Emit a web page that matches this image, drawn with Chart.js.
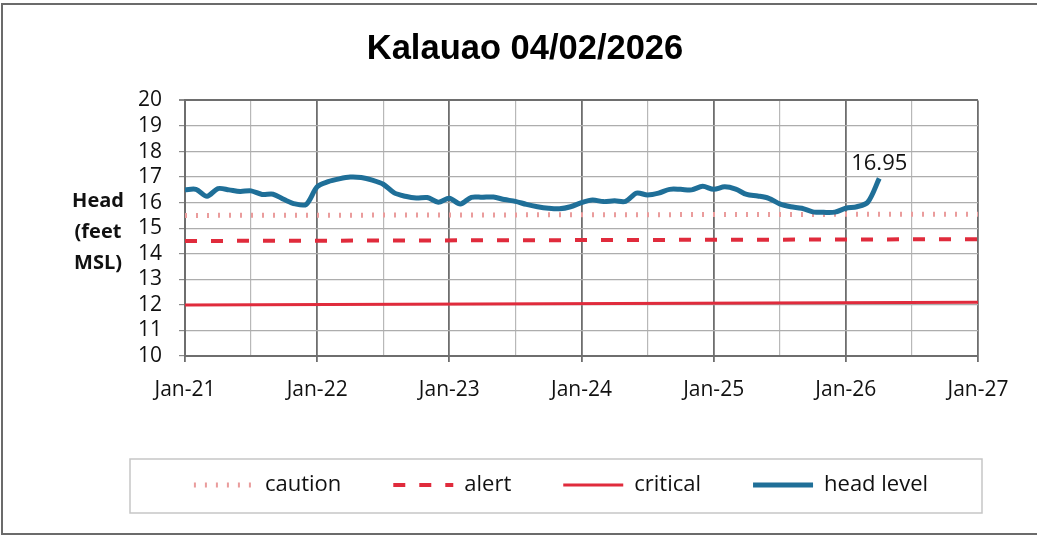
<!DOCTYPE html>
<html>
<head>
<meta charset="utf-8">
<title>Kalauao 04/02/2026</title>
<script src="https://cdn.jsdelivr.net/npm/chart.js@4.4.1/dist/chart.umd.min.js"></script>
<style>
  html, body { margin: 0; padding: 0; background: #fff; }
  #wrap { position: relative; width: 1037px; height: 539px; }
</style>
</head>
<body>
<div id="wrap"><canvas id="headChart"></canvas></div>
<script>
// chart title
const chartTitle = 'Kalauao 04/02/2026';
const yTitleLines = ['Head', '(feet', 'MSL)'];

// x axis labels, one per January
const yearLabels = ['Jan-21', 'Jan-22', 'Jan-23', 'Jan-24', 'Jan-25', 'Jan-26', 'Jan-27'];

// monthly head readings, feet MSL
const headDates = [
  '2021-01-01', '2021-02-01', '2021-03-01', '2021-04-01', '2021-05-01', '2021-06-01',
  '2021-07-01', '2021-08-01', '2021-09-01', '2021-10-01', '2021-11-01', '2021-12-01',
  '2022-01-01', '2022-02-01', '2022-03-01', '2022-04-01', '2022-05-01', '2022-06-01',
  '2022-07-01', '2022-08-01', '2022-09-01', '2022-10-01', '2022-11-01', '2022-12-01',
  '2023-01-01', '2023-02-01', '2023-03-01', '2023-04-01', '2023-05-01', '2023-06-01',
  '2023-07-01', '2023-08-01', '2023-09-01', '2023-10-01', '2023-11-01', '2023-12-01',
  '2024-01-01', '2024-02-01', '2024-03-01', '2024-04-01', '2024-05-01', '2024-06-01',
  '2024-07-01', '2024-08-01', '2024-09-01', '2024-10-01', '2024-11-01', '2024-12-01',
  '2025-01-01', '2025-02-01', '2025-03-01', '2025-04-01', '2025-05-01', '2025-06-01',
  '2025-07-01', '2025-08-01', '2025-09-01', '2025-10-01', '2025-11-01', '2025-12-01',
  '2026-01-01', '2026-02-01', '2026-03-01', '2026-04-02'
];
const headValues = [
  16.50, 16.52, 16.25, 16.55, 16.50, 16.44, 16.46, 16.32, 16.33, 16.12, 15.95, 15.93,
  16.62, 16.82, 16.93, 17.00, 16.98, 16.88, 16.72, 16.38, 16.25, 16.18, 16.20, 16.02,
  16.17, 15.95, 16.21, 16.21, 16.22, 16.12, 16.05, 15.93, 15.84, 15.78, 15.76, 15.84,
  16.00, 16.10, 16.04, 16.07, 16.05, 16.37, 16.30, 16.37, 16.52, 16.52, 16.50, 16.64,
  16.52, 16.62, 16.53, 16.32, 16.26, 16.17, 15.95, 15.84, 15.78, 15.64, 15.62, 15.63,
  15.78, 15.84, 16.02, 16.95
];

// threshold lines, start and end of the axis
const thresholdYears = [2021, 2027];
const cautionLevel = [15.50, 15.55];
const alertLevel = [14.50, 14.57];
const criticalLevel = [12.00, 12.10];

function toYear(s) {
  const p = s.split('-').map(Number);
  return p[0] + (p[1] - 1) / 12 + (p[2] - 1) / 365;
}

function pairs(xs, ys) {
  return xs.map((x, i) => ({ x: x, y: ys[i] }));
}

const tickFont = { family: 'Open Sans', size: 21 };

// frame round the whole picture and the box round the legend
const framePlugin = {
  id: 'frames',
  afterLayout(chart) {
    // the title sits a bit left of the legend's centre
    chart.titleBlock.left -= 36;
    chart.titleBlock.right -= 36;
  },
  afterDraw(chart) {
    const ctx = chart.ctx;
    const lg = chart.legend;
    ctx.save();
    ctx.strokeStyle = '#6b6b6b';
    ctx.lineWidth = 2;
    ctx.strokeRect(2, 4, 1100, 530);
    const cx = (lg.left + lg.right) / 2;
    ctx.strokeStyle = '#c6c6c6';
    ctx.lineWidth = 1.5;
    ctx.strokeRect(cx - 431, lg.top + 37, 852, 54);
    ctx.restore();
  }
};

// horizontal y axis title
const yTitlePlugin = {
  id: 'yTitle',
  afterDraw(chart) {
    const ctx = chart.ctx;
    ctx.save();
    ctx.font = 'bold 20px "Open Sans"';
    ctx.fillStyle = '#111';
    ctx.textAlign = 'center';
    ctx.textBaseline = 'middle';
    yTitleLines.forEach((t, i) => ctx.fillText(t, 98, 201 + i * 31));
    ctx.restore();
  }
};

// value label on the latest reading
const lastLabelPlugin = {
  id: 'lastLabel',
  afterDatasetsDraw(chart) {
    const meta = chart.getDatasetMeta(3);
    const pt = meta.data[meta.data.length - 1];
    const ctx = chart.ctx;
    ctx.save();
    ctx.font = '22px "Open Sans"';
    ctx.fillStyle = '#111';
    ctx.textAlign = 'center';
    ctx.textBaseline = 'middle';
    ctx.fillText(headValues[headValues.length - 1].toFixed(2), pt.x, pt.y - 15);
    ctx.restore();
  }
};

const ctx = document.getElementById('headChart').getContext('2d');
const headChart = new Chart(ctx, {
  type: 'line',
  data: {
    datasets: [
      {
        label: 'caution',
        data: pairs(thresholdYears, cautionLevel),
        borderColor: '#ea9c9c',
        borderWidth: 5,
        borderDash: [2, 9],
        pointRadius: 0,
        order: 3
      },
      {
        label: 'alert',
        data: pairs(thresholdYears, alertLevel),
        borderColor: '#e02b3c',
        borderWidth: 4,
        borderDash: [12, 14],
        pointRadius: 0,
        order: 2
      },
      {
        label: 'critical',
        data: pairs(thresholdYears, criticalLevel),
        borderColor: '#e02b3c',
        borderWidth: 3,
        pointRadius: 0,
        order: 1
      },
      {
        label: 'head level',
        data: pairs(headDates.map(toYear), headValues),
        borderColor: '#1f6f98',
        borderWidth: 5,
        pointRadius: 0,
        tension: 0.3,
        order: 0
      }
    ]
  },
  options: {
    responsive: true,
    maintainAspectRatio: false,
    animation: false,
    layout: { padding: { left: 85, right: 0, top: 0, bottom: 33 } },
    plugins: {
      title: {
        display: true,
        text: chartTitle,
        color: '#000',
        font: { family: 'Liberation Sans', size: 34.5, weight: 'bold' },
        padding: { top: 29, bottom: 30 }
      },
      legend: {
        position: 'bottom',
        labels: {
          usePointStyle: true,
          pointStyle: 'line',
          pointStyleWidth: 60,
          padding: 52,
          color: '#111',
          font: { family: 'Open Sans', size: 22 },
          sort: (a, b) => a.datasetIndex - b.datasetIndex,
          generateLabels: function(chart) {
            const items = Chart.defaults.plugins.legend.labels.generateLabels(chart);
            items.forEach(function(it) {
              const ds = chart.data.datasets[it.datasetIndex];
              it.lineDash = ds.borderDash || [];
              it.lineWidth = ds.borderWidth;
              it.strokeStyle = ds.borderColor;
            });
            return items;
          }
        }
      },
      tooltip: { enabled: false }
    },
    scales: {
      x: {
        type: 'linear',
        min: 2021,
        max: 2027,
        afterFit: function(scale) { scale.height = 66; },
        ticks: {
          stepSize: 0.5,
          autoSkip: false,
          maxRotation: 0,
          padding: 15,
          color: '#111',
          font: tickFont,
          callback: v => Number.isInteger(v) ? yearLabels[v - 2021] : ''
        },
        grid: {
          color: c => Number.isInteger(c.tick.value) ? '#6e6e6e' : '#b8b8b8',
          lineWidth: c => Number.isInteger(c.tick.value) ? 1.8 : 1.2,
          tickColor: c => Number.isInteger(c.tick.value) ? '#6e6e6e' : 'rgba(0,0,0,0)',
          tickLength: 6
        },
        border: { color: '#6e6e6e', width: 2 }
      },
      y: {
        min: 10,
        max: 20,
        afterFit: function(scale) { scale.width = 100; },
        ticks: {
          stepSize: 1,
          autoSkip: false,
          padding: 17,
          color: '#111',
          font: tickFont
        },
        grid: {
          color: c => c.tick.value === 20 ? '#6e6e6e' : '#adadad',
          lineWidth: c => c.tick.value === 20 ? 2 : 1.2,
          tickColor: '#8a8a8a',
          tickLength: 6
        },
        border: { color: '#6e6e6e', width: 2 }
      },
      // empty right-hand strip that keeps the plot clear of the edge
      yRight: {
        position: 'right',
        afterFit: function(scale) { scale.width = 59; },
        grid: { display: false },
        border: { display: false },
        ticks: { display: false }
      }
    }
  },
  plugins: [framePlugin, yTitlePlugin, lastLabelPlugin]
});
</script>
</body>
</html>
